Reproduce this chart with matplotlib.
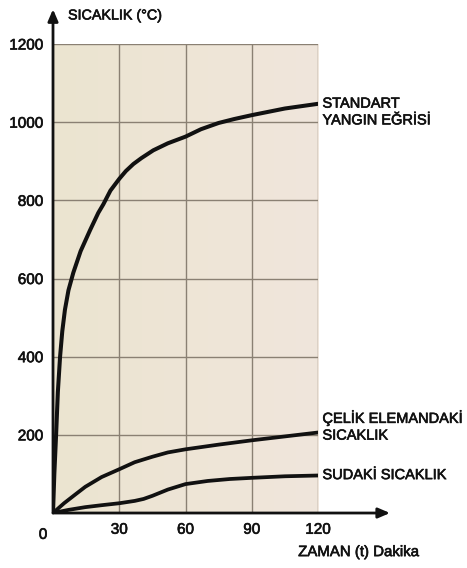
import numpy as np
import matplotlib.pyplot as plt
import matplotlib.patheffects as pe
from matplotlib.colors import LinearSegmentedColormap

# time (minutes) and temperatures (°C) for the three curves
t_std = [0, 0.6, 1.4, 2.2, 3.2, 4.2, 5.4, 7.0, 9.2, 12.5, 16.8, 20.5, 22.8, 26, 30, 33, 36.4,
         40, 45.4, 52, 60, 67, 75, 82, 90, 105, 120]
temp_std = [0, 100, 200, 310, 400, 465, 520, 570, 615, 670, 724, 768, 790, 825, 855, 875, 893,
            908, 928, 946, 963, 982, 998, 1008, 1018, 1035, 1047]

t_steel = [0, 5, 10, 14.6, 22, 30, 37, 45, 52, 60, 75, 90, 105, 120]
temp_steel = [0, 25, 47, 67, 92, 112, 130, 144, 155, 163, 175, 186, 196, 206]

t_water = [0, 7, 14.6, 22, 30, 37, 41, 45, 52, 60, 70, 80, 90, 105, 120]
temp_water = [0, 8, 15, 20, 25, 31, 36, 44, 60, 74, 82, 87, 90, 94, 96]

x_ticks = [30, 60, 90, 120]
y_ticks = [200, 400, 600, 800, 1000, 1200]

labels = {
    "std": "STANDART\nYANGIN EĞRİSİ",
    "steel": "ÇELİK ELEMANDAKİ\nSICAKLIK",
    "water": "SUDAKİ SICAKLIK",
}

plt.rcParams["font.family"] = ["Liberation Sans", "DejaVu Sans"]

INK = "#111111"
GRID = "#8a8073"
# slightly heavier strokes on the lettering
BOLDISH = [pe.withStroke(linewidth=0.45, foreground=INK)]

fig = plt.figure(figsize=(4.67, 5.68), dpi=100)
ax = fig.add_axes([0.1135, 0.0968, 0.5675, 0.8257])
ax.set_xlim(0, 120)
ax.set_ylim(0, 1200)
for s in ax.spines.values():
    s.set_visible(False)

# paper-toned background with a faint left-to-right tint shift
paper = LinearSegmentedColormap.from_list("paper", ["#ebe4d0", "#eee5d6", "#f0e6dc"])
ax.imshow(np.linspace(0, 1, 256)[None, :], cmap=paper, aspect="auto",
          extent=(0, 120, 0, 1200), zorder=0)

# grid, including the closing lines at the top and right
for x in x_ticks:
    ax.axvline(x, color=GRID, lw=1.0, zorder=1)
for y in y_ticks:
    ax.axhline(y, color=GRID, lw=1.0, zorder=1)

line_kw = dict(color=INK, solid_capstyle="round", solid_joinstyle="round", zorder=3)
ax.plot(t_std, temp_std, lw=2.9, **line_kw)
ax.plot(t_steel, temp_steel, lw=2.7, **line_kw)
ax.plot(t_water, temp_water, lw=2.7, **line_kw)

# axes with arrow heads
arrow = dict(arrowstyle="-|>,head_length=0.7,head_width=0.3", color=INK, lw=2.0,
             shrinkA=0, shrinkB=0)
ax.annotate("", xy=(0, 1289), xytext=(0, 0), arrowprops=arrow, annotation_clip=False, zorder=4)
ax.annotate("", xy=(152.6, 0), xytext=(0, 0), arrowprops=arrow, annotation_clip=False, zorder=4)

ax.set_xticks(x_ticks)
ax.set_xticklabels([str(v) for v in x_ticks])
ax.set_yticks(y_ticks)
ax.set_yticklabels([str(v) for v in y_ticks])
ax.tick_params(length=0, labelsize=11, colors=INK, pad=7)
ax.set_xlim(0, 120)
ax.set_ylim(0, 1200)
for lab in ax.get_xticklabels() + ax.get_yticklabels():
    lab.set_path_effects(BOLDISH)
ax.text(-4.5, -38, "0", ha="center", va="top", fontsize=11, color=INK,
        path_effects=BOLDISH)

ax.text(6.8, 1273, "SICAKLIK (°C)", ha="left", va="center", fontsize=10.3, color=INK,
        clip_on=False, path_effects=BOLDISH)
ax.text(165.8, -100, "ZAMAN (t) Dakika", ha="right", va="center", fontsize=10.8, color=INK,
        clip_on=False, path_effects=BOLDISH)

ax.text(122, 1026, labels["std"], ha="left", va="center", fontsize=10.5, color=INK,
        linespacing=1.25, clip_on=False, path_effects=BOLDISH)
ax.text(122, 222, labels["steel"], ha="left", va="center", fontsize=10.5, color=INK,
        linespacing=1.25, clip_on=False, path_effects=BOLDISH)
ax.text(122, 97, labels["water"], ha="left", va="center", fontsize=10.5, color=INK,
        clip_on=False, path_effects=BOLDISH)

fig.savefig("out.png", dpi=100, facecolor="white")
